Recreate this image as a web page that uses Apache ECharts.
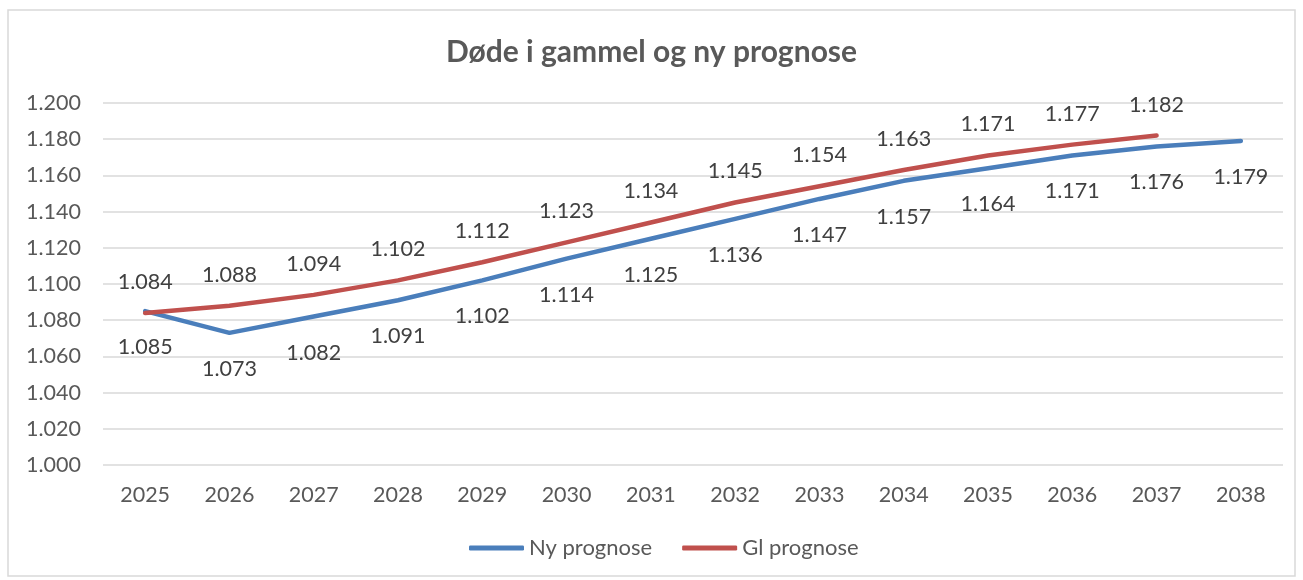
<!DOCTYPE html>
<html>
<head>
<meta charset="utf-8">
<script src="https://cdn.jsdelivr.net/npm/echarts@6/dist/echarts.min.js"></script>
<style>
  html, body { margin: 0; padding: 0; background: #fff; }
  #chart { width: 1303px; height: 580px; }
</style>
</head>
<body>
<div id="chart"></div>
<script>
// årstall på x-aksen
const years = ['2025', '2026', '2027', '2028', '2029', '2030', '2031', '2032', '2033', '2034', '2035', '2036', '2037', '2038'];
// døde, ny prognose
const nyPrognose = [1085, 1073, 1082, 1091, 1102, 1114, 1125, 1136, 1147, 1157, 1164, 1171, 1176, 1179];
// døde, gammel prognose (slutter 2037)
const glPrognose = [1084, 1088, 1094, 1102, 1112, 1123, 1134, 1145, 1154, 1163, 1171, 1177, 1182];

const FONT = 'Lato, "Open Sans", sans-serif';

// norsk tusenskille: 1085 -> 1.085
function fmt(v) {
  const n = Math.round(v);
  const t = Math.floor(n / 1000);
  const r = String(n % 1000).padStart(3, '0');
  return t > 0 ? t + '.' + r : String(n);
}

let chart = echarts.init(document.getElementById('chart'));

let option = {
  backgroundColor: '#ffffff',
  textStyle: { fontFamily: FONT },
  title: {
    text: 'Døde i gammel og ny prognose',
    left: 'center',
    top: 32,
    textStyle: {
      color: '#595959',
      fontSize: 30,
      fontWeight: 'bold',
      fontFamily: FONT
    }
  },
  graphic: [{
    type: 'rect',
    shape: { x: 8, y: 10, width: 1287, height: 566 },
    style: { fill: 'none', stroke: '#d9d9d9', lineWidth: 1.5 },
    silent: true
  }],
  legend: {
    bottom: 16,
    left: 464,
    icon: 'roundRect',
    itemWidth: 55,
    itemHeight: 5,
    itemGap: 30,
    textStyle: { color: '#595959', fontSize: 22, fontFamily: FONT },
    data: ['Ny prognose', 'Gl prognose']
  },
  grid: {
    left: 103,
    right: 20,
    top: 103,
    bottom: 115
  },
  xAxis: {
    type: 'category',
    data: years,
    boundaryGap: true,
    axisLine: { show: false },
    axisTick: { show: false },
    axisLabel: { color: '#595959', fontSize: 21.5, margin: 19, fontFamily: FONT }
  },
  yAxis: {
    type: 'value',
    min: 1000,
    max: 1200,
    interval: 20,
    axisLine: { show: false },
    axisTick: { show: false },
    splitLine: { lineStyle: { color: '#d9d9d9', width: 1.5 } },
    axisLabel: {
      color: '#595959',
      fontSize: 21.5,
      margin: 22,
      fontFamily: FONT,
      formatter: fmt
    }
  },
  series: [
    {
      name: 'Ny prognose',
      type: 'line',
      data: nyPrognose,
      color: '#4a7ebb',
      symbol: 'circle',
      symbolSize: 0,
      showSymbol: true,
      lineStyle: { width: 4.5, color: '#4a7ebb', cap: 'round' },
      label: {
        show: true,
        position: 'bottom',
        distance: 25,
        color: '#404040',
        fontSize: 21.5,
        fontFamily: FONT,
        formatter: p => fmt(p.value)
      },
      z: 2
    },
    {
      name: 'Gl prognose',
      type: 'line',
      data: glPrognose,
      color: '#c0504d',
      symbol: 'circle',
      symbolSize: 0,
      showSymbol: true,
      lineStyle: { width: 4.5, color: '#c0504d', cap: 'round' },
      label: {
        show: true,
        position: 'top',
        distance: 20,
        color: '#404040',
        fontSize: 21.5,
        fontFamily: FONT,
        formatter: p => fmt(p.value)
      },
      z: 3
    }
  ]
};

chart.setOption(option);
</script>
</body>
</html>
